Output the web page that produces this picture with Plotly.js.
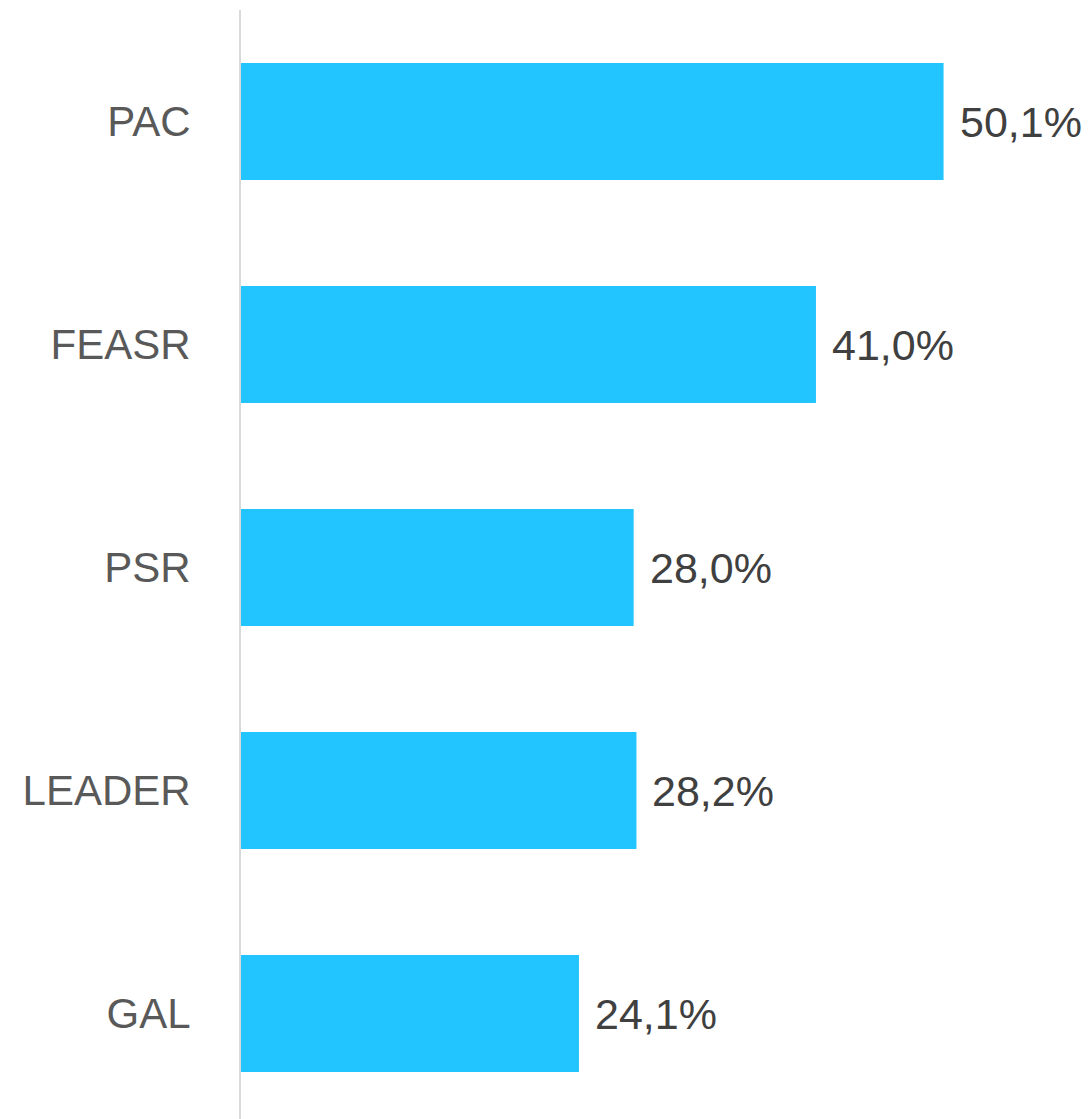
<!DOCTYPE html>
<html>
<head>
<meta charset="utf-8">
<script src="https://cdn.plot.ly/plotly-3.0.1.min.js"></script>
<style>
  html, body { margin: 0; padding: 0; background: #fff; }
  #chart { width: 1088px; height: 1119px; }
</style>
</head>
<body>
<div id="chart"></div>
<script>
var categories = ['PAC', 'FEASR', 'PSR', 'LEADER', 'GAL'];
var values = [50.1, 41.0, 28.0, 28.2, 24.1];
var valueLabels = ['50,1%', '41,0%', '28,0%', '28,2%', '24,1%'];

var bars = {
    x: values,
    y: categories,
    type: 'bar',
    orientation: 'h',
    width: 0.525,
    marker: { color: '#22C5FF' },
    hoverinfo: 'none'
};

var notes = [];
for (var i = 0; i < categories.length; i++) {
    notes.push({
        x: values[i],
        y: categories[i],
        text: valueLabels[i],
        showarrow: false,
        xanchor: 'left',
        yanchor: 'middle',
        xshift: 14,
        font: { family: 'Liberation Sans, Arial, sans-serif', size: 43, color: '#404040' }
    });
}

var layout = {
    width: 1088,
    height: 1119,
    margin: { l: 241, r: 0, t: 10, b: 0 },
    paper_bgcolor: '#fff',
    plot_bgcolor: '#fff',
    showlegend: false,
    xaxis: {
        range: [0, 60.4],
        showgrid: false,
        zeroline: false,
        showticklabels: false,
        showline: false
    },
    yaxis: {
        type: 'category',
        categoryorder: 'array',
        categoryarray: categories,
        range: [4.473, -0.5],
        showgrid: false,
        zeroline: false,
        showline: true,
        linecolor: '#d9d9d9',
        linewidth: 2,
        ticks: '',
        ticklabelstandoff: 40,
        tickfont: { family: 'Liberation Sans, Arial, sans-serif', size: 42, color: '#595959' }
    },
    annotations: notes
};

Plotly.newPlot('chart', [bars], layout, { displayModeBar: false, staticPlot: true });
</script>
</body>
</html>
